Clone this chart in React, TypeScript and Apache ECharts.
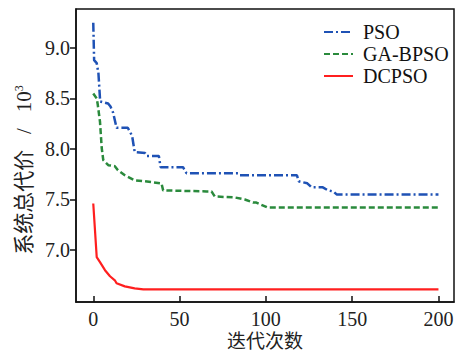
import React, { useEffect, useRef } from "react";
import * as echarts from "echarts";

const xTicks = [0, 50, 100, 150, 200];
const yTicks = [7.0, 7.5, 8.0, 8.5, 9.0];

const psoX = [0, 0.5, 2, 3, 4, 8.6, 10, 11.5, 13.5, 20, 22.5, 24, 30, 31, 38, 39, 52, 54, 84, 85, 118, 119, 124, 126.5, 133, 136, 139, 141, 200];
const psoY = [9.25, 8.88, 8.85, 8.75, 8.47, 8.45, 8.42, 8.36, 8.21, 8.21, 8.13, 7.97, 7.96, 7.93, 7.93, 7.82, 7.82, 7.76, 7.76, 7.74, 7.74, 7.68, 7.66, 7.62, 7.62, 7.59, 7.58, 7.55, 7.55];

const gaX = [0, 2, 2.6, 3.9, 4.9, 5.8, 8.7, 12.5, 14.3, 18.3, 24, 30, 39.5, 40.5, 65.6, 68.5, 70.4, 82, 87.8, 92.5, 94.5, 101, 200];
const gaY = [8.55, 8.5, 8.44, 8.27, 8.01, 7.89, 7.84, 7.83, 7.79, 7.74, 7.69, 7.68, 7.66, 7.59, 7.58, 7.58, 7.53, 7.52, 7.5, 7.47, 7.47, 7.42, 7.42];

const dcX = [0, 2, 3.9, 6.8, 9.7, 12.5, 13.5, 18.3, 24, 29, 200];
const dcY = [7.46, 6.93, 6.88, 6.8, 6.74, 6.7, 6.67, 6.64, 6.62, 6.61, 6.61];

const seriesNames = ["PSO", "GA-BPSO", "DCPSO"];
const xTitle = "迭代次数";
const yTitle = "系统总代价   /   10";

const zip = (xs: number[], ys: number[]) => xs.map((x, i) => [x, ys[i]]);

const SERIF = "Liberation Serif";
const FONT = "Liberation Serif, Noto Sans CJK SC";

export default function App() {
  const ref = useRef<HTMLDivElement>(null);
  useEffect(() => {
    if (!ref.current) return;
    const chart = echarts.init(ref.current, null, { renderer: "svg" });
    chart.setOption({
      animation: false,
      backgroundColor: "#ffffff",
      textStyle: { fontFamily: SERIF },
      grid: {
        left: 76,
        right: 5,
        top: 9,
        bottom: 51,
        show: true,
        borderColor: "#111",
        borderWidth: 1.5,
        containLabel: false,
        outerBoundsMode: "none",
      },
      legend: {
        orient: "vertical",
        left: 318,
        top: 17,
        itemWidth: 29,
        itemHeight: 14,
        itemGap: 2,
        itemStyle: { opacity: 0 },
        textStyle: { fontFamily: SERIF, fontSize: 20, color: "#111", padding: [0, 0, 0, 5] },
        data: seriesNames,
      },
      xAxis: {
        type: "value",
        min: -10,
        max: 209,
        splitLine: { show: false },
        axisLine: { show: true, onZero: false, lineStyle: { color: "#111", width: 1.5 } },
        axisTick: { show: true, inside: true, length: 6, customValues: xTicks, lineStyle: { color: "#111", width: 1.5 } },
        axisLabel: {
          customValues: xTicks,
          margin: 7,
          fontFamily: SERIF,
          fontSize: 20,
          color: "#222",
        },
      },
      yAxis: {
        type: "value",
        min: 6.485,
        max: 9.386,
        splitLine: { show: false },
        axisLine: { show: true, onZero: false, lineStyle: { color: "#111", width: 1.5 } },
        axisTick: { show: true, inside: false, length: 6, customValues: yTicks, lineStyle: { color: "#111", width: 1.5 } },
        axisLabel: {
          customValues: yTicks,
          margin: 6,
          fontFamily: SERIF,
          fontSize: 20,
          color: "#222",
          formatter: (v: number) => v.toFixed(1),
        },
      },
      graphic: [
        {
          type: "text",
          x: 24,
          y: 170,
          rotation: Math.PI / 2,
          style: {
            text: yTitle + "{sup|3}",
            fontFamily: FONT,
            fontSize: 21,
            fill: "#222",
            align: "center",
            verticalAlign: "middle",
            rich: {
              sup: { fontFamily: SERIF, fontSize: 12, fill: "#222", padding: [0, 0, 10, 0] },
            },
          },
        },
        {
          type: "text",
          x: 265,
          y: 341,
          style: {
            text: xTitle,
            fontFamily: FONT,
            fontSize: 19,
            fill: "#222",
            align: "center",
            verticalAlign: "middle",
          },
        },
      ],
      series: [
        {
          name: seriesNames[0],
          type: "line",
          data: zip(psoX, psoY),
          showSymbol: false,
          symbol: "none",
          color: "#1f52b5",
          lineStyle: { width: 2.5, type: [9, 3, 2, 3] },
        },
        {
          name: seriesNames[1],
          type: "line",
          data: zip(gaX, gaY),
          showSymbol: false,
          symbol: "none",
          color: "#2a8a3c",
          lineStyle: { width: 2.5, type: [6, 3] },
        },
        {
          name: seriesNames[2],
          type: "line",
          data: zip(dcX, dcY),
          showSymbol: false,
          symbol: "none",
          color: "#ff1f1f",
          lineStyle: { width: 2.2, type: "solid" },
        },
      ],
    });
    return () => chart.dispose();
  }, []);
  return <div ref={ref} style={{ position: "fixed", left: 0, top: 0, width: 459, height: 353 }} />;
}
